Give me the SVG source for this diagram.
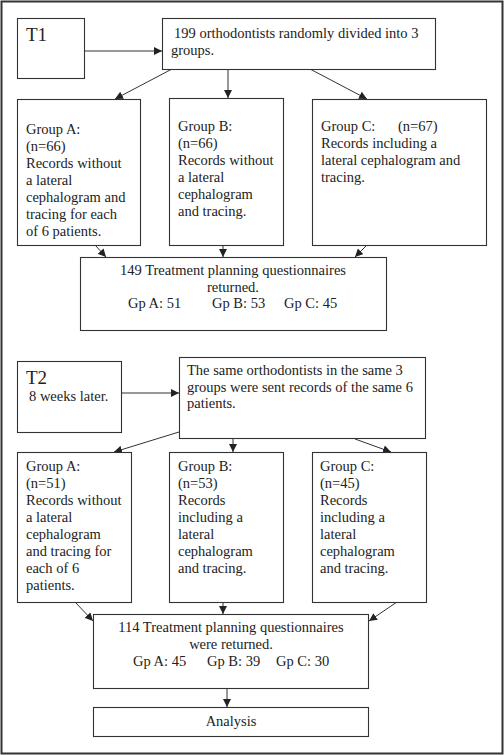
<svg xmlns="http://www.w3.org/2000/svg" width="504" height="755" viewBox="0 0 504 755">
<style>
.b{fill:#fff;stroke:#333;stroke-width:1.1}
.t{font-family:"Liberation Serif","Times New Roman",serif;font-size:14.5px;fill:#222}
.c{text-anchor:middle}
.l{stroke:#333;stroke-width:1;fill:none;marker-end:url(#a)}
</style>
<defs>
<marker id="a" viewBox="0 0 10 10" refX="10" refY="5" markerWidth="8" markerHeight="8" markerUnits="userSpaceOnUse" orient="auto">
<path d="M0,0L10,5L0,10z" fill="#222"/>
</marker>
</defs>
<rect x="1.5" y="1.5" width="501" height="752" fill="#fff" stroke="#333" stroke-width="2"/>
<g id="connectors">
<line class="l" x1="84" y1="51" x2="162" y2="51"/>
<line class="l" x1="172" y1="69" x2="115" y2="99"/>
<line class="l" x1="228" y1="69" x2="228" y2="98"/>
<line class="l" x1="310" y1="69" x2="367" y2="99"/>
<line class="l" x1="95" y1="245" x2="106" y2="257"/>
<line class="l" x1="223" y1="245" x2="223" y2="257"/>
<line class="l" x1="367" y1="245" x2="355" y2="257"/>
<line class="l" x1="122" y1="393" x2="179" y2="393"/>
<line class="l" x1="179" y1="432" x2="114" y2="452"/>
<line class="l" x1="233" y1="438" x2="233" y2="452"/>
<line class="l" x1="355" y1="439" x2="391" y2="452"/>
<line class="l" x1="75" y1="602" x2="93" y2="621"/>
<line class="l" x1="223" y1="602" x2="223" y2="614"/>
<line class="l" x1="397" y1="602" x2="369" y2="621"/>
<line class="l" x1="227" y1="688" x2="227" y2="707"/>
</g>
<g id="t1">
<rect class="b" x="17.5" y="18.5" width="67" height="60"/>
<text class="t" x="26" y="41" style="font-size:19px">T1</text>
</g>
<g id="top">
<rect class="b" x="162.5" y="18.5" width="273" height="51"/>
<text class="t" x="174" y="38">199 orthodontists randomly divided into 3</text>
<text class="t" x="171" y="55">groups.</text>
</g>
<g id="groupA1">
<rect class="b" x="17.5" y="99.5" width="123" height="146"/>
<text class="t" x="26" y="134">Group A:</text>
<text class="t" x="26" y="151">(n=66)</text>
<text class="t" x="26" y="168">Records without</text>
<text class="t" x="26" y="185">a lateral</text>
<text class="t" x="26" y="202">cephalogram and</text>
<text class="t" x="26" y="219">tracing for each</text>
<text class="t" x="26" y="236">of 6 patients.</text>
</g>
<g id="groupB1">
<rect class="b" x="169.5" y="98.5" width="114" height="147"/>
<text class="t" x="178" y="131">Group B:</text>
<text class="t" x="178" y="148">(n=66)</text>
<text class="t" x="178" y="165">Records without</text>
<text class="t" x="178" y="182">a lateral</text>
<text class="t" x="178" y="199">cephalogram</text>
<text class="t" x="178" y="216">and tracing.</text>
</g>
<g id="groupC1">
<rect class="b" x="312.5" y="99.5" width="174" height="146"/>
<text class="t" x="321" y="131">Group C:</text>
<text class="t" x="398" y="131">(n=67)</text>
<text class="t" x="321" y="148">Records including a</text>
<text class="t" x="321" y="165">lateral cephalogram and</text>
<text class="t" x="321" y="182">tracing.</text>
</g>
<g id="ret1">
<rect class="b" x="80.5" y="257.5" width="306" height="73"/>
<text class="t c" x="233" y="275">149 Treatment planning questionnaires</text>
<text class="t c" x="233" y="292">returned.</text>
<text class="t" x="128" y="308">Gp A: 51</text>
<text class="t" x="212" y="308">Gp B: 53</text>
<text class="t" x="284" y="308">Gp C: 45</text>
</g>
<g id="t2">
<rect class="b" x="17.5" y="361.5" width="104" height="71"/>
<text class="t" x="26" y="384" style="font-size:19px">T2</text>
<text class="t" x="29" y="401">8 weeks later.</text>
</g>
<g id="same">
<rect class="b" x="179.5" y="357.5" width="246" height="81"/>
<text class="t" x="187" y="375">The same orthodontists in the same 3</text>
<text class="t" x="187" y="392">groups were sent records of the same 6</text>
<text class="t" x="187" y="408">patients.</text>
</g>
<g id="groupA2">
<rect class="b" x="17.5" y="452.5" width="114" height="150"/>
<text class="t" x="26" y="471">Group A:</text>
<text class="t" x="26" y="488">(n=51)</text>
<text class="t" x="26" y="505">Records without</text>
<text class="t" x="26" y="522">a lateral</text>
<text class="t" x="26" y="539">cephalogram</text>
<text class="t" x="26" y="556">and tracing for</text>
<text class="t" x="26" y="573">each of 6</text>
<text class="t" x="26" y="590">patients.</text>
</g>
<g id="groupB2">
<rect class="b" x="169.5" y="452.5" width="114" height="150"/>
<text class="t" x="178" y="471">Group B:</text>
<text class="t" x="178" y="488">(n=53)</text>
<text class="t" x="178" y="505">Records</text>
<text class="t" x="178" y="522">including a</text>
<text class="t" x="178" y="539">lateral</text>
<text class="t" x="178" y="556">cephalogram</text>
<text class="t" x="178" y="573">and tracing.</text>
</g>
<g id="groupC2">
<rect class="b" x="312.5" y="452.5" width="114" height="150"/>
<text class="t" x="320" y="471">Group C:</text>
<text class="t" x="320" y="488">(n=45)</text>
<text class="t" x="320" y="505">Records</text>
<text class="t" x="320" y="522">including a</text>
<text class="t" x="320" y="539">lateral</text>
<text class="t" x="320" y="556">cephalogram</text>
<text class="t" x="320" y="573">and tracing.</text>
</g>
<g id="ret2">
<rect class="b" x="93.5" y="614.5" width="275" height="74"/>
<text class="t c" x="231" y="632">114 Treatment planning questionnaires</text>
<text class="t c" x="231" y="649">were returned.</text>
<text class="t" x="133" y="666">Gp A: 45</text>
<text class="t" x="207" y="666">Gp B: 39</text>
<text class="t" x="276" y="666">Gp C: 30</text>
</g>
<g id="analysis">
<rect class="b" x="93.5" y="707.5" width="275" height="29"/>
<text class="t c" x="231" y="726">Analysis</text>
</g>
</svg>
